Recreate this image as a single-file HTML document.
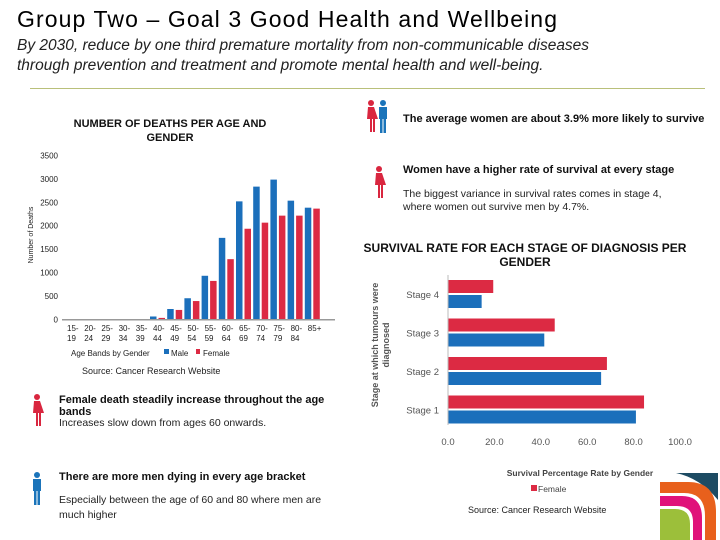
<!DOCTYPE html>
<html><head><meta charset="utf-8"><style>
body{margin:0;width:720px;height:540px;background:#fff;font-family:"Liberation Sans",sans-serif;position:relative;overflow:hidden}
.a{position:absolute;margin:0}
</style></head><body>
<div class="a" style="left:17px;top:6px;font-size:23px;letter-spacing:1.1px;color:#000;white-space:nowrap">Group Two – Goal 3 Good Health and Wellbeing</div>
<div class="a" style="left:17px;top:36px;font-size:15.5px;font-style:italic;color:#222;line-height:20px;width:600px">By 2030, reduce by one third premature mortality from non-communicable diseases through prevention and treatment and promote mental health and well-being.</div>
<div class="a" style="left:30px;top:88px;width:675px;height:1px;background:#b9c07a"></div>

<div class="a" style="left:55px;top:117px;width:230px;text-align:center;font-size:11px;font-weight:bold;color:#111;line-height:14px">NUMBER OF DEATHS  PER AGE AND GENDER</div>
<div class="a" style="left:82px;top:366px;font-size:9px;color:#222">Source: Cancer Research Website</div>

<div class="a" style="left:403px;top:113px;font-size:11px;font-weight:bold;color:#111;white-space:nowrap">The average women are about 3.9% more likely to survive</div>
<div class="a" style="left:403px;top:164px;font-size:11px;font-weight:bold;color:#111">Women have a higher rate of survival at every stage</div>
<div class="a" style="left:403px;top:188px;font-size:10.5px;color:#222;line-height:13px;width:285px">The biggest variance in survival rates comes in stage 4, where women out survive men by 4.7%.</div>
<div class="a" style="left:350px;top:241px;width:350px;text-align:center;font-size:12px;font-weight:bold;color:#111;line-height:14px">SURVIVAL RATE FOR EACH STAGE OF DIAGNOSIS PER GENDER</div>

<div class="a" style="left:59px;top:394px;font-size:11px;font-weight:bold;color:#111;width:275px;line-height:12px">Female death steadily increase throughout the age bands</div>
<div class="a" style="left:59px;top:417px;font-size:10.5px;color:#222">Increases slow down from ages 60 onwards.</div>
<div class="a" style="left:59px;top:471px;font-size:11px;font-weight:bold;color:#111">There are more men dying in every age bracket</div>
<div class="a" style="left:59px;top:493px;font-size:10.5px;color:#222;width:285px;line-height:15px">Especially between the age of 60 and 80 where men are much higher</div>
<div class="a" style="left:468px;top:505px;font-size:9px;color:#222">Source: Cancer Research Website</div>

<svg class="a" style="left:0;top:0" width="720" height="540">
<defs>
<g id="fem"><circle cx="0" cy="-15" r="3"/><path d="M-3-11h6l4 12h-3v13h-2v-13h-1v13h-2v-13h-3z"/></g>
<g id="mal"><circle cx="0" cy="-15" r="3"/><path d="M-4-11h8v12h-1v14h-2.5v-14h-1v14h-2.5v-14h-1z"/></g>
<clipPath id="lc"><rect x="660" y="473" width="58" height="67"/></clipPath>
</defs>
<use href="#fem" x="371" y="118" fill="#d9263f"/>
<use href="#mal" x="383" y="118" fill="#1b74ba"/>
<use href="#fem" x="379" y="184" fill="#d9263f"/>
<use href="#fem" x="37" y="412" fill="#d9263f"/>
<use href="#mal" x="37" y="490" fill="#1b74ba"/>
<g clip-path="url(#lc)">
<path d="M676 473 H718 V500 Q700 478 676 473z" fill="#1d4b63"/>
<path d="M660 482 H688 Q716 482 716 512 V540 H660z" fill="#e8601c"/>
<path d="M660 493 H684 Q705 493 705 516 V540 H660z" fill="#fff"/>
<path d="M660 496 H682 Q702 496 702 518 V540 H660z" fill="#e0127a"/>
<path d="M660 506 H677 Q693 506 693 522 V540 H660z" fill="#fff"/>
<path d="M660 509 H675 Q690 509 690 524 V540 H660z" fill="#9cbf3a"/>
</g>
<g id="deaths"></g>
<g id="survival"></g>
</svg>
<script>
const ageBands=[["15-","19"],["20-","24"],["25-","29"],["30-","34"],["35-","39"],["40-","44"],["45-","49"],["50-","54"],["55-","59"],["60-","64"],["65-","69"],["70-","74"],["75-","79"],["80-","84"],["85+",""]];
const maleDeaths=[0,0,0,0,5,60,220,450,930,1740,2520,2835,2985,2535,2385];
const femaleDeaths=[0,0,0,0,5,30,200,390,820,1285,1935,2065,2215,2215,2365];
const deathTicks=[0,500,1000,1500,2000,2500,3000,3500];
const stages=["Stage 4","Stage 3","Stage 2","Stage 1"];
const femaleSurvival=[19.5,46,68.5,84.5];
const maleSurvival=[14.5,41.5,66,81];
const survivalTicks=[0,20,40,60,80,100];
const NS="http://www.w3.org/2000/svg";
function mk(p,t,a,txt){const e=document.createElementNS(NS,t);for(const k in a)e.setAttribute(k,a[k]);if(txt!==undefined)e.textContent=txt;p.appendChild(e);return e;}
const dg=document.getElementById('deaths');
const y0=319.3,yPer=46.8/1000;const yS=v=>y0-v*yPer;
const xS=i=>64+i*17.2;
deathTicks.forEach(t=>{const e=mk(dg,'text',{x:58,y:yS(t)+3,'text-anchor':'end','font-size':8,fill:'#222'},t);

});
ageBands.forEach((b,i)=>{
 const m=mk(dg,'rect',{x:xS(i),y:yS(maleDeaths[i]),width:6.5,height:maleDeaths[i]*yPer,fill:'#1b6fbb'});
 
 
 const f=mk(dg,'rect',{x:xS(i)+8.5,y:yS(femaleDeaths[i]),width:6.5,height:femaleDeaths[i]*yPer,fill:'#dc2a43'});
 
 
 const l=mk(dg,'text',{x:xS(i)+3,y:331,'font-size':8,fill:'#222'},b[0]);
 
 
 const l2=mk(dg,'text',{x:xS(i)+3,y:341,'font-size':8,fill:'#222'},b[1]);
 
 
});
const ax=mk(dg,'line',{x1:62,x2:335,y1:y0+0.5,y2:y0+0.5,stroke:'#999','stroke-width':1.5});


const yt=mk(dg,'text',{x:0,y:0,'font-size':7,fill:'#222','text-anchor':'middle',transform:'translate(33,235) rotate(-90)'},'Number of Deaths');


const lg=mk(dg,'text',{x:71,y:356,'font-size':8,fill:'#222'},'Age Bands by Gender');


const lm=mk(dg,'rect',{x:164,y:349,width:5,height:5,fill:'#1b6fbb'});
const lmt=mk(dg,'text',{x:171,y:356,'font-size':8,fill:'#222'},'Male');
const lf=mk(dg,'rect',{x:196,y:349,width:4,height:5,fill:'#dc2a43'});
const lft=mk(dg,'text',{x:203,y:356,'font-size':8,fill:'#222'},'Female');
const sg=document.getElementById('survival');
const x0=448,xPer=2.32;const sx=v=>x0+v*xPer;
stages.forEach((s,i)=>{
 const top=280+i*38.5;
 const f=mk(sg,'rect',{x:x0,y:top,width:femaleSurvival[i]*xPer,height:13,fill:'#dc2a43'});
 
 
 const m=mk(sg,'rect',{x:x0,y:top+15,width:maleSurvival[i]*xPer,height:13,fill:'#1b6fbb'});
 
 
 const l=mk(sg,'text',{x:439,y:top+18,'text-anchor':'end','font-size':9.5,fill:'#555'},s);
 
 
});
survivalTicks.forEach(t=>{const e=mk(sg,'text',{x:sx(t),y:445,'text-anchor':'middle','font-size':9.5,fill:'#555'},t.toFixed(1));

});
const va=mk(sg,'line',{x1:x0,x2:x0,y1:275,y2:425,stroke:'#bbb'});


const st=mk(sg,'text',{x:0,y:0,'font-size':9,'font-weight':'bold',fill:'#555','text-anchor':'middle',transform:'translate(378,345) rotate(-90)'},'Stage at which tumours were');


const st2=mk(sg,'text',{x:0,y:0,'font-size':9,'font-weight':'bold',fill:'#555','text-anchor':'middle',transform:'translate(389,345) rotate(-90)'},'diagnosed');


const sxt=mk(sg,'text',{x:580,y:476,'text-anchor':'middle','font-size':8.5,'font-weight':'bold',fill:'#444'},'Survival Percentage Rate by Gender');


const sl=mk(sg,'rect',{x:531,y:485,width:6,height:6,fill:'#dc2a43'});
const slt=mk(sg,'text',{x:538,y:492,'font-size':8.5,fill:'#444'},'Female');
</script>
</body></html>
